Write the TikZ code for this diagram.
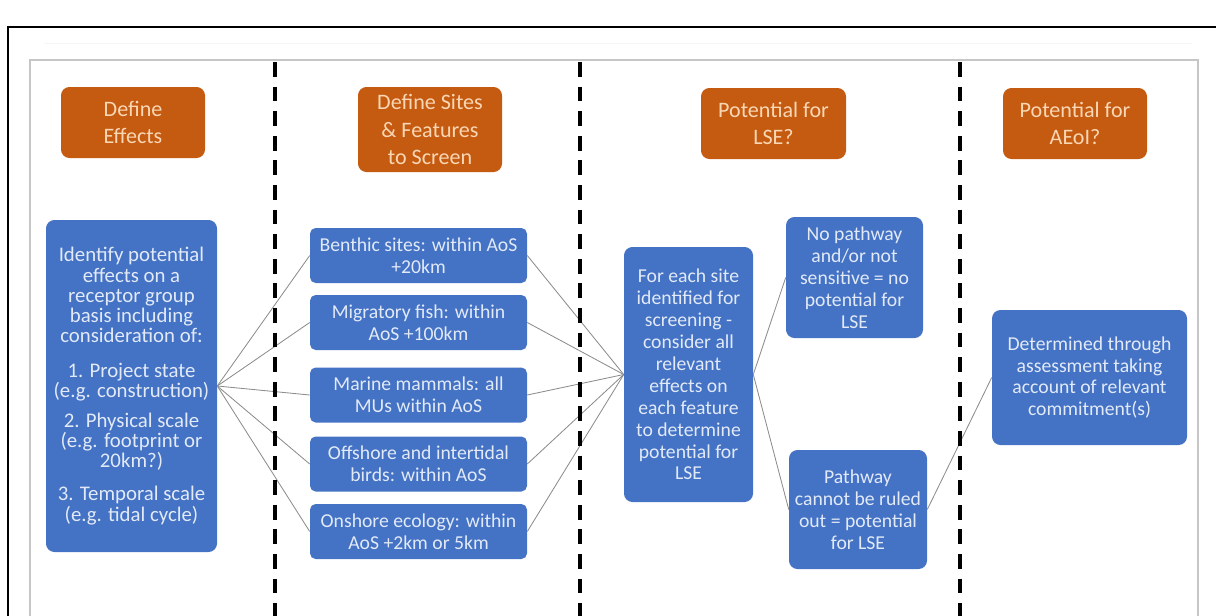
\documentclass[tikz,border=0pt]{standalone}
\usepackage{fontspec}
\setmainfont{Carlito}

\definecolor{hdorange}{HTML}{C55A11}
\definecolor{hdtext}{HTML}{FAD7B4}
\definecolor{boxblue}{HTML}{4472C4}
\definecolor{boxtext}{HTML}{E2EAF7}
\definecolor{linkgray}{HTML}{8C8C8C}

\tikzset{
  header/.style={fill=hdorange, rounded corners=6pt, text=hdtext, align=center,
    minimum width=3.6cm, minimum height=1.775cm, inner sep=2pt,
    font=\fontsize{15.7}{19.5}\selectfont},
  bluebox/.style={fill=boxblue, rounded corners=6pt, text=boxtext, align=center,
    inner sep=2pt, font=\fontsize{14}{15.6}\selectfont},
  sitebox/.style={bluebox, rounded corners=4pt, minimum width=5.425cm, minimum height=1.375cm},
  link/.style={draw=linkgray, line width=0.6pt},
  divider/.style={line width=2.2pt, dash pattern=on 10.5pt off 7pt},
}

\begin{document}
\begin{tikzpicture}
  \useasboundingbox (0,0) rectangle (30.4,-15.375);
  % --- Frames ---
  \draw[line width=2pt] (0.2,-15.5) -- (0.2,-0.675) -- (30.5,-0.675);
  \draw[gray!8, line width=0.8pt] (1.1,-1.08) -- (29.8,-1.08);
  \draw[gray!45, line width=0.8pt] (0.75,-15.5) -- (0.75,-1.5) -- (29.95,-1.5) -- (29.95,-15.5);
  % --- Column headers ---
  \node[header] (hdEff) at (3.325,-3.0625) {Define\\Effects};
  \node[header, minimum height=2.125cm] (hdSites) at (10.75,-3.2375) {Define Sites\\\& Features\\to Screen};
  \node[header, minimum width=3.625cm] (hdLSE) at (19.3375,-3.0875) {Potential for\\LSE?};
  \node[header] (hdAEoI) at (26.875,-3.0875) {Potential for\\AEoI?};
  % --- Effects ---
  \node[bluebox, minimum width=4.275cm, minimum height=8.3cm, font=\fontsize{14.8}{14.4}\selectfont] (effects) at (3.2875,-9.65)
    {Identify potential\\effects on a\\receptor group\\basis including\\consideration of:\\[10pt]
     1. Project state\\(e.g. construction)\\[7pt]2. Physical scale\\(e.g. footprint or\\20km?)\\[9pt]
     3. Temporal scale\\(e.g. tidal cycle)};
  % --- Sites and features ---
  \node[sitebox] (benthic) at (10.4625,-6.3875) {Benthic sites: within AoS\\+20km};
  \node[sitebox] (fish) at (10.4625,-8.0625) {Migratory fish: within\\AoS +100km};
  \node[sitebox] (mammals) at (10.4625,-9.875) {Marine mammals: all\\MUs within AoS};
  \node[sitebox] (birds) at (10.4625,-11.6) {Offshore and intertidal\\birds: within AoS};
  \node[sitebox] (onshore) at (10.4625,-13.2875) {Onshore ecology: within\\AoS +2km or 5km};
  % --- Screening ---
  \node[bluebox, minimum width=3.225cm, minimum height=6.375cm] (screen) at (17.2125,-9.3625)
    {For each site\\identified for\\screening -\\consider all\\relevant\\effects on\\each feature\\to determine\\potential for\\LSE};
  \node[bluebox, minimum width=3.425cm, minimum height=3.025cm] (nopath) at (21.3625,-6.9375)
    {No pathway\\and/or not\\sensitive = no\\potential for\\LSE};
  \node[bluebox, minimum width=3.45cm, minimum height=2.975cm] (pathway) at (21.45,-12.7375)
    {Pathway\\cannot be ruled\\out = potential\\for LSE};
  % --- Assessment ---
  \node[bluebox, minimum width=4.875cm, minimum height=3.375cm] (assess) at (27.2375,-9.4375)
    {Determined through\\assessment taking\\account of relevant\\commitment(s)};
  % --- Connectors ---
  \foreach \n in {benthic,fish,mammals,birds,onshore} {
    \draw[link] (effects.east) -- (\n.west);
    \draw[link] (\n.east) -- (screen.west);
  }
  \draw[link] (screen.east) -- (nopath.west);
  \draw[link] (screen.east) -- (pathway.west);
  \draw[link] (pathway.east) -- (assess.west);
  % --- Column dividers ---
  \foreach \x in {6.875,14.5,24.0} {
    \draw[divider] (\x,-1.55) -- (\x,-15.5);
  }
\end{tikzpicture}
\end{document}
